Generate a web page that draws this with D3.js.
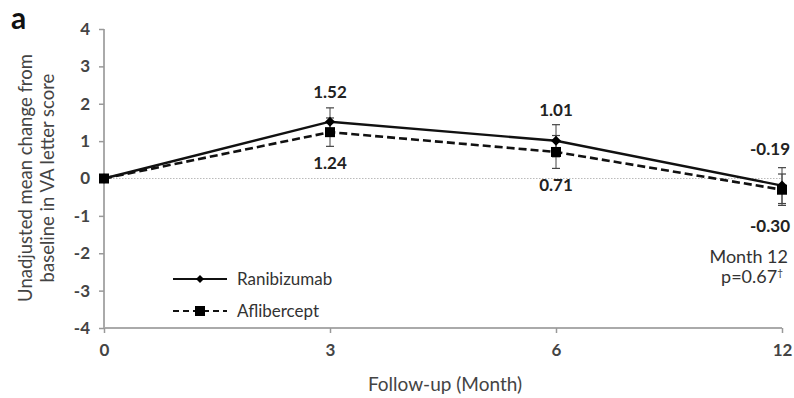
<!DOCTYPE html>
<html><head><meta charset="utf-8">
<script src="https://cdn.jsdelivr.net/npm/d3@7"></script>
<style>body{margin:0;background:#fff}svg{display:block}text{font-family:Lato,"Open Sans",sans-serif}</style>
</head><body><svg id="c" width="794" height="398"></svg>
<script>
const months = ["0","3","6","12"];
const ranibizumab = [0, 1.52, 1.01, -0.19];
const ranibizumabErr = [0, 0.37, 0.43, 0.48];
const aflibercept = [0, 1.24, 0.71, -0.30];
const afliberceptErr = [0, 0.38, 0.44, 0.42];
const yTicks = [-4,-3,-2,-1,0,1,2,3,4];
const seriesNames = ["Ranibizumab","Aflibercept"];

const svg = d3.select("#c");
const x = d3.scalePoint().domain(months).range([104, 782]);
const y = d3.scaleLinear().domain([-4, 4]).range([328, 29]);

// zero gridline
svg.append("line").attr("x1",104).attr("x2",782).attr("y1",y(0)).attr("y2",y(0))
  .attr("stroke","#bbb").attr("stroke-width",1.2).attr("stroke-dasharray","1.5,1.5");

// axes
const yAxis = svg.append("g").attr("transform","translate(104,0)")
  .call(d3.axisLeft(y).tickValues(yTicks).tickSize(5).tickPadding(9).tickFormat(d=>String(d)));
const xAxis = svg.append("g").attr("transform",`translate(0,${y(-4)})`)
  .call(d3.axisBottom(x).tickSize(5).tickPadding(11));
[yAxis,xAxis].forEach(g=>{
  g.select(".domain").attr("stroke","#aaa").attr("stroke-width",2);
  g.selectAll(".tick line").attr("stroke","#999").attr("stroke-width",1.5);
  g.selectAll(".tick text").attr("fill","#444").attr("font-size",17).attr("font-weight","bold");
});
yAxis.select(".domain").attr("d",`M0,${y(4)}V${y(-4)}`);
xAxis.select(".domain").attr("d",`M${x("0")},0H${x("12")}`);

// error bars
function errBars(vals, errs){
  const g = svg.append("g");
  months.forEach((m,i)=>{
    if(!errs[i]) return;
    const cx = x(m), t = y(vals[i]+errs[i]), b = y(vals[i]-errs[i]);
    g.append("line").attr("x1",cx).attr("x2",cx).attr("y1",t).attr("y2",b).attr("stroke","#444").attr("stroke-width",1);
    [t,b].forEach(yy=>g.append("line").attr("x1",cx-4).attr("x2",cx+4).attr("y1",yy).attr("y2",yy).attr("stroke","#444").attr("stroke-width",1.2));
  });
}
errBars(ranibizumab, ranibizumabErr);
errBars(aflibercept, afliberceptErr);

const line = d3.line().x((d,i)=>x(months[i])).y(d=>y(d));
svg.append("path").datum(aflibercept).attr("d",line).attr("fill","none")
  .attr("stroke","#111").attr("stroke-width",2.6).attr("stroke-dasharray","8,4");
svg.append("path").datum(ranibizumab).attr("d",line).attr("fill","none")
  .attr("stroke","#111").attr("stroke-width",2.4);

// markers
svg.append("g").selectAll("rect").data(aflibercept).join("rect")
  .attr("x",(d,i)=>x(months[i])-5).attr("y",d=>y(d)-5).attr("width",10).attr("height",10).attr("fill","#000");
svg.append("g").selectAll("path").data(ranibizumab).join("path")
  .attr("d",(d,i)=>`M${x(months[i])},${y(d)-5}l5,5l-5,5l-5,-5z`).attr("fill","#000");

// value labels
const lab = (tx,xx,yy,anchor)=>svg.append("text").attr("x",xx).attr("y",yy).attr("text-anchor",anchor||"middle")
  .attr("font-size",17).attr("font-weight","bold").attr("fill","#222").text(tx);
const fmt = v => d3.format(".2f")(v).replace("\u2212","-");
lab(fmt(ranibizumab[1]), x("3"), y(ranibizumab[1]+ranibizumabErr[1])-10);
lab(fmt(aflibercept[1]), x("3"), y(aflibercept[1]-afliberceptErr[1])+23);
lab(fmt(ranibizumab[2]), x("6"), y(ranibizumab[2]+ranibizumabErr[2])-9);
lab(fmt(aflibercept[2]), x("6"), y(aflibercept[2]-afliberceptErr[2])+23);
lab(fmt(ranibizumab[3]), 790, 155, "end");
lab(fmt(aflibercept[3]), 790, 232, "end");

svg.append("text").attr("x",788).attr("y",263).attr("text-anchor","end").attr("font-size",18).attr("fill","#333").text("Month 12");
const p = svg.append("text").attr("x",783).attr("y",283).attr("text-anchor","end").attr("font-size",18).attr("fill","#333");
p.append("tspan").text("p=0.67");
p.append("tspan").attr("font-size",10).attr("dy",-7).text("\u2020");

// legend
const lg = svg.append("g");
[[279,null],[311,"6,4"]].forEach(([ly,dash],i)=>{
  lg.append("line").attr("x1",173).attr("x2",227).attr("y1",ly).attr("y2",ly).attr("stroke","#111").attr("stroke-width",2.2).attr("stroke-dasharray",dash);
  if(i===0) lg.append("path").attr("d",`M200,${ly-4}l4,4l-4,4l-4,-4z`).attr("fill","#000");
  else lg.append("rect").attr("x",195).attr("y",ly-5).attr("width",10).attr("height",10).attr("fill","#000");
  lg.append("text").attr("x",237).attr("y",ly+6).attr("font-size",17).attr("fill","#333").text(seriesNames[i]);
});

// titles
svg.append("text").attr("transform","translate(32,178) rotate(-90)").attr("text-anchor","middle")
  .attr("font-size",18.5).attr("fill","#444").text("Unadjusted mean change from");
svg.append("text").attr("transform","translate(54,178) rotate(-90)").attr("text-anchor","middle")
  .attr("font-size",18.5).attr("fill","#444").text("baseline in VA letter score");
svg.append("text").attr("x",445).attr("y",391).attr("text-anchor","middle").attr("font-size",19).attr("fill","#444").text("Follow-up (Month)");
svg.append("text").attr("x",11).attr("y",29).attr("font-size",30).attr("font-weight","bold").attr("fill","#111").text("a");
</script></body></html>
